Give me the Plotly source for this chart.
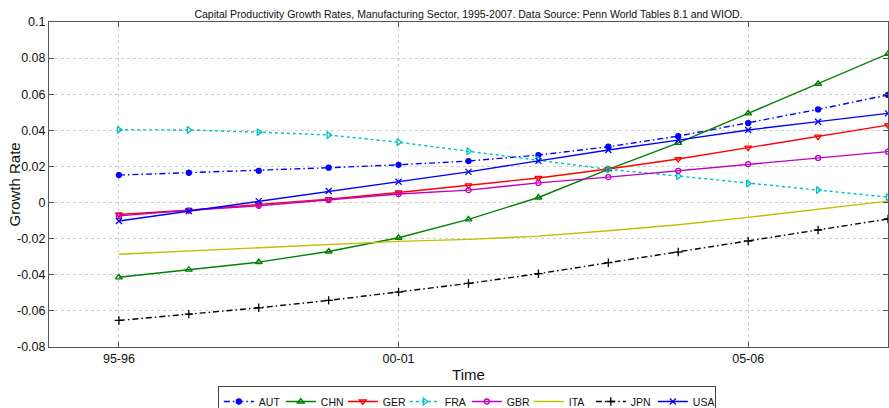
import plotly.graph_objects as go

# x positions (period index) and tick labels
x_idx = [1, 2, 3, 4, 5, 6, 7, 8, 9, 10, 11, 12]
tick_pos = [1, 5, 10]
tick_labels = ["95-96", "00-01", "05-06"]
y_ticks = [-0.08, -0.06, -0.04, -0.02, 0, 0.02, 0.04, 0.06, 0.08, 0.1]
y_tick_labels = ["-0.08", "-0.06", "-0.04", "-0.02", "0", "0.02", "0.04", "0.06", "0.08", "0.1"]

AUT = [0.0152, 0.0165, 0.0176, 0.0193, 0.0209, 0.0230, 0.0263, 0.0309, 0.0368, 0.0440, 0.0516, 0.0596]
CHN = [-0.0414, -0.0372, -0.0330, -0.0271, -0.0195, -0.0093, 0.0028, 0.0184, 0.0331, 0.0494, 0.0658, 0.0824]
GER = [-0.0066, -0.0043, -0.0010, 0.0019, 0.0056, 0.0095, 0.0136, 0.0186, 0.0241, 0.0304, 0.0365, 0.0429]
FRA = [0.0403, 0.0402, 0.0390, 0.0374, 0.0334, 0.0284, 0.0238, 0.0184, 0.0147, 0.0106, 0.0069, 0.0030]
GBR = [-0.0074, -0.0043, -0.0018, 0.0013, 0.0047, 0.0069, 0.0109, 0.0141, 0.0176, 0.0213, 0.0247, 0.0282]
ITA = [-0.0286, -0.0268, -0.0250, -0.0232, -0.0215, -0.0204, -0.0186, -0.0156, -0.0123, -0.0082, -0.0038, 0.0008]
JPN = [-0.0653, -0.0618, -0.0583, -0.0542, -0.0496, -0.0448, -0.0394, -0.0333, -0.0274, -0.0213, -0.0152, -0.0091]
USA = [-0.0102, -0.0047, 0.0008, 0.0064, 0.0115, 0.0170, 0.0231, 0.0291, 0.0346, 0.0402, 0.0448, 0.0494]

series = [
    ("AUT", AUT, "rgb(0,0,255)", "6px,3px,1.5px,3px", "circle", 5),
    ("CHN", CHN, "rgb(0,128,0)", "solid", "triangle-up-open", 6),
    ("GER", GER, "rgb(255,0,0)", "solid", "triangle-down-open", 6),
    ("FRA", FRA, "rgb(0,191,191)", "dot", "triangle-right-open", 6),
    ("GBR", GBR, "rgb(191,0,191)", "solid", "circle-open", 5),
    ("ITA", ITA, "rgb(191,191,0)", "solid", None, 0),
    ("JPN", JPN, "rgb(0,0,0)", "6px,3px,1.5px,3px", "cross-thin-open", 6),
    ("USA", USA, "rgb(0,0,255)", "solid", "x-thin-open", 6),
]

fig = go.Figure()
for name, vals, col, dash, sym, size in series:
    if sym is None:
        fig.add_trace(go.Scatter(x=x_idx, y=vals, name=name, mode="lines",
                                 line=dict(color=col, width=1.4, dash=dash)))
    else:
        fig.add_trace(go.Scatter(x=x_idx, y=vals, name=name, mode="lines+markers",
                                 line=dict(color=col, width=1.4, dash=dash),
                                 marker=dict(symbol=sym, size=size, color=col,
                                             line=dict(color=col, width=1.3))))

axis_common = dict(showline=True, linecolor="#555", linewidth=1, mirror="ticks",
                   ticks="inside", ticklen=5, tickcolor="#555",
                   showgrid=True, gridcolor="#d0d0d0", griddash="dot", gridwidth=1,
                   zeroline=False, tickfont=dict(size=12.5, color="#111"),
                   automargin=False)

fig.update_layout(
    width=889, height=408,
    margin=dict(l=49, r=1, t=22, b=61, autoexpand=False),
    paper_bgcolor="white", plot_bgcolor="white",
    font=dict(family="Liberation Sans, Arial, sans-serif", color="#111"),
    title=dict(text="Capital Productivity Growth Rates, Manufacturing Sector, 1995-2007. Data Source: Penn World Tables 8.1 and WIOD.",
               x=0.5, xref="paper", y=0.966, yanchor="middle", font=dict(size=10.5)),
    xaxis=dict(range=[0, 12], tickvals=tick_pos, ticktext=tick_labels,
               title=dict(text="Time", font=dict(size=15), standoff=4), **axis_common),
    yaxis=dict(range=[-0.08, 0.1], tickvals=y_ticks, ticktext=y_tick_labels, **axis_common),
    legend=dict(orientation="h", x=0.498, xanchor="center", y=-0.12, yanchor="top",
                bordercolor="#444", borderwidth=1, font=dict(size=10.5),
                itemwidth=30, tracegroupgap=0, entrywidth=17, entrywidthmode="pixels"),
    showlegend=True,
    annotations=[dict(text="Growth Rate", textangle=-90, xref="paper", yref="paper",
                      x=-0.0417, y=0.5, xanchor="center", yanchor="middle",
                      showarrow=False, font=dict(size=15))],
)

fig.write_html("out.html", config={"displayModeBar": False},
               post_script="document.body.style.margin='0';document.body.style.overflow='hidden';")
